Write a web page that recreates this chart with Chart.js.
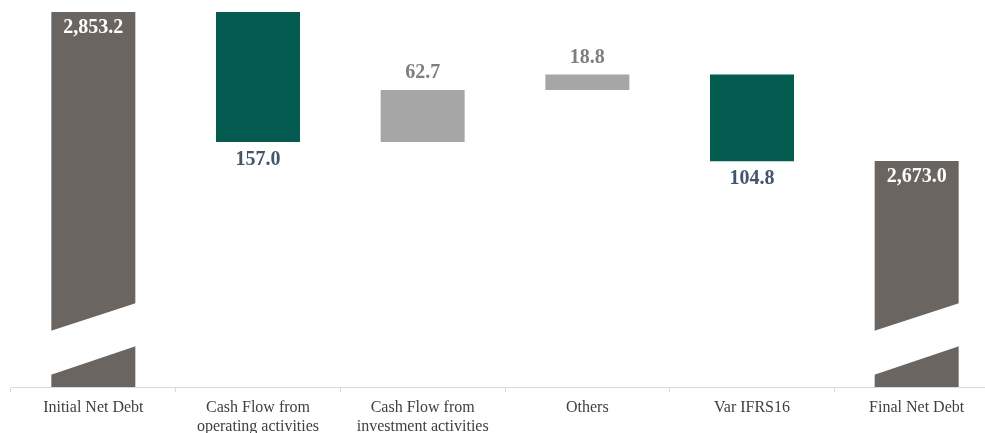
<!DOCTYPE html>
<html lang="en">
<head>
  <meta charset="UTF-8">
  <title>Net Debt Bridge</title>
  <script src="https://cdn.jsdelivr.net/npm/chart.js"></script>
  <style>
    html, body {
      margin: 0;
      padding: 0;
      background: #ffffff;
      overflow: hidden;
    }
    #wrap {
      width: 1000px;
      height: 433px;
    }
  </style>
</head>
<body>
  <div id="wrap">
    <canvas id="bridgeChart" width="1000" height="433"></canvas>
  </div>

  <script>
    // data
    const categories = [
      'Initial Net Debt',
      ['Cash Flow from', 'operating activities'],
      ['Cash Flow from', 'investment activities'],
      'Others',
      'Var IFRS16',
      'Final Net Debt'
    ];
    const startValue = 2853.2;
    const changes = [-157.0, 62.7, 18.8, -104.8];
    const endValue = 2673.0;
    const axisMin = 2400;
    const axisMax = 2867.7;

    const colTotal = '#6b6561';
    const colDown = '#035a4f';
    const colUp = '#a6a6a6';

    // build floating bars for the waterfall
    const floating = [[axisMin, startValue]];
    const kinds = ['total'];
    let running = startValue;
    changes.forEach(c => {
      const next = running + c;
      floating.push([running, next]);
      kinds.push(c < 0 ? 'down' : 'up');
      running = next;
    });
    floating.push([axisMin, endValue]);
    kinds.push('total');
    const shown = [startValue, ...changes.map(Math.abs), endValue];

    const colors = kinds.map(k => k === 'total' ? colTotal : (k === 'down' ? colDown : colUp));

    const fmt = v => v.toLocaleString('en-US', { minimumFractionDigits: 1, maximumFractionDigits: 1 });

    // white slanted gap on the total bars (axis break)
    const breakPlugin = {
      id: 'breakMarks',
      afterDatasetsDraw(chart) {
        const ctx = chart.ctx;
        const bottom = chart.chartArea.bottom;
        chart.getDatasetMeta(0).data.forEach((el, i) => {
          if (kinds[i] !== 'total') return;
          const l = el.x - el.width / 2 - 1;
          const r = el.x + el.width / 2 + 1;
          ctx.save();
          ctx.fillStyle = '#ffffff';
          ctx.beginPath();
          ctx.moveTo(l, bottom - 56);
          ctx.lineTo(r, bottom - 84);
          ctx.lineTo(r, bottom - 41);
          ctx.lineTo(l, bottom - 12);
          ctx.closePath();
          ctx.fill();
          ctx.restore();
        });
      }
    };

    const labelPlugin = {
      id: 'valueLabels',
      afterDatasetsDraw(chart) {
        const ctx = chart.ctx;
        ctx.save();
        ctx.font = 'bold 20px "Liberation Serif", serif';
        ctx.textAlign = 'center';
        ctx.textBaseline = 'middle';
        chart.getDatasetMeta(0).data.forEach((el, i) => {
          const top = Math.min(el.y, el.base);
          const bot = Math.max(el.y, el.base);
          let y, color;
          if (kinds[i] === 'total') {
            y = top + 16;
            color = '#ffffff';
          } else if (kinds[i] === 'down') {
            y = bot + 18;
            color = '#44546a';
          } else {
            y = top - 17;
            color = '#7f7f7f';
          }
          ctx.fillStyle = color;
          ctx.fillText(fmt(shown[i]), el.x, y);
        });
        ctx.restore();
      }
    };

    const chart = new Chart(document.getElementById('bridgeChart'), {
      type: 'bar',
      data: {
        labels: categories,
        datasets: [{
          data: floating,
          backgroundColor: colors,
          borderWidth: 0,
          barPercentage: 0.51,
          categoryPercentage: 1.0
        }]
      },
      options: {
        responsive: false,
        animation: false,
        layout: { padding: { left: 11, right: 1, top: 0, bottom: 0 } },
        plugins: {
          legend: { display: false },
          tooltip: { enabled: false }
        },
        scales: {
          x: {
            grid: {
              offset: true,
              drawOnChartArea: false,
              drawTicks: true,
              tickLength: 5,
              color: '#d9d9d9'
            },
            border: { color: '#d9d9d9', width: 1 },
            ticks: {
              color: '#3f3f3f',
              font: { family: '"Liberation Serif", serif', size: 16, lineHeight: 1.15 },
              padding: 7,
              maxRotation: 0,
              autoSkip: false
            },
            afterFit(scale) { scale.height = 46; }
          },
          y: {
            display: false,
            min: axisMin,
            max: axisMax
          }
        }
      },
      plugins: [breakPlugin, labelPlugin]
    });
  </script>
</body>
</html>
